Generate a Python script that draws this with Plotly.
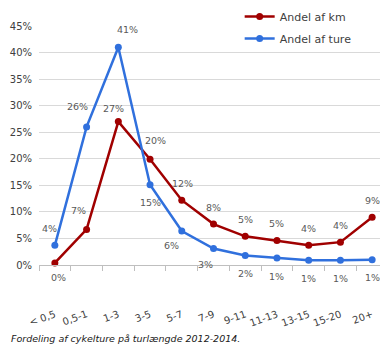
import plotly.graph_objects as go

categories = ["< 0,5", "0,5-1", "1-3", "3-5", "5-7", "7-9", "9-11", "11-13", "13-15", "15-20", "20+"]
andel_km = [0.004, 0.067, 0.27, 0.199, 0.122, 0.077, 0.054, 0.046, 0.037, 0.043, 0.090]
andel_ture = [0.037, 0.26, 0.41, 0.151, 0.064, 0.031, 0.018, 0.013, 0.009, 0.009, 0.010]

# label offsets in pixels (dx, dy) relative to each point
km_off = [(4, -15), (-8, 19), (-5, 13), (5, 19), (1, 17), (0, 17), (0, 17), (0, 17), (0, 17), (0, 17), (0, 17)]
ture_off = [(-5, 17), (-9, 20), (9, 18), (0, -18), (-10, -14), (-8, -16), (0, -18), (0, -18), (0, -18), (0, -18), (0, -18)]

RED = "#A00000"
BLUE = "#3070DD"
FONT = "DejaVu Sans"

fig = go.Figure()
fig.add_trace(go.Scatter(
    x=categories, y=andel_km, name="Andel af km", mode="lines+markers",
    line=dict(color=RED, width=2.5), marker=dict(color=RED, size=7),
    legendgroup="a", cliponaxis=False,
))
fig.add_trace(go.Scatter(
    x=categories, y=andel_ture, name="Andel af ture", mode="lines+markers",
    line=dict(color=BLUE, width=2.5), marker=dict(color=BLUE, size=7),
    legendgroup="b", cliponaxis=False,
))

annotations = []
for vals, offs in ((andel_km, km_off), (andel_ture, ture_off)):
    for c, v, (dx, dy) in zip(categories, vals, offs):
        annotations.append(dict(
            x=c, y=v, xref="x", yref="y", text=f"{round(v * 100):.0f}%",
            showarrow=False, xshift=dx, yshift=dy,
            font=dict(family=FONT, size=9.5, color="#595959"),
        ))

annotations.append(dict(
    text="<i>Fordeling af cykelture på turlængde 2012-2014.</i>",
    xref="paper", yref="paper", x=-0.085, y=-0.307, xanchor="left", yanchor="middle",
    showarrow=False, font=dict(family=FONT, size=9.5, color="#202020"),
))

# the page body adds an 8px offset, so the figure is 380x336
fig.update_layout(
    width=380, height=336,
    margin=dict(l=31, r=0, t=18, b=79, autoexpand=False),
    paper_bgcolor="white", plot_bgcolor="white",
    font=dict(family=FONT, size=10, color="#595959"),
    showlegend=True,
    legend=dict(x=0.575, y=1.1, xanchor="left", yanchor="top",
                font=dict(family=FONT, size=11, color="#404040"),
                traceorder="grouped", tracegroupgap=3,
                bgcolor="rgba(0,0,0,0)", itemwidth=30),
    xaxis=dict(
        type="category", showgrid=False, showline=True, linecolor="#BFBFBF", linewidth=1,
        ticks="outside", tickson="boundaries", ticklen=5, tickcolor="#BFBFBF",
        tickangle=-20, ticklabelstandoff=39, automargin=False,
        tickfont=dict(family=FONT, size=10, color="#404040"),
        range=[-0.5, 10.5], fixedrange=True,
    ),
    yaxis=dict(
        range=[0, 0.45], dtick=0.05, tickformat=".0%", showgrid=True,
        gridcolor="#D9D9D9", gridwidth=1, zeroline=False, showline=False,
        tickfont=dict(family=FONT, size=10, color="#404040"),
        ticklabelstandoff=6, automargin=False,
    ),
    annotations=annotations,
)

fig.write_html("out.html")
